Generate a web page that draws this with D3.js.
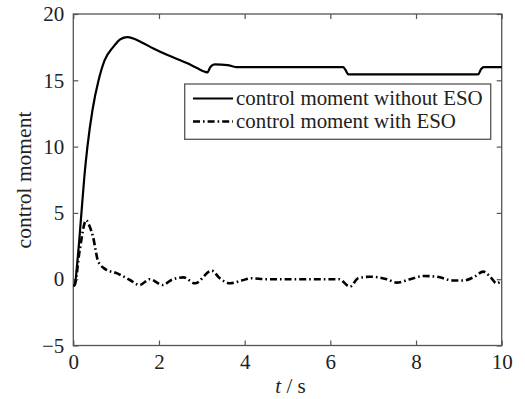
<!DOCTYPE html>
<html>
<head>
<meta charset="utf-8">
<script src="https://cdn.jsdelivr.net/npm/d3@7/dist/d3.min.js"></script>
<style>
  html, body { margin: 0; padding: 0; background: #fff; }
  svg { display: block; }
  text { font-family: "Liberation Serif", "Times New Roman", serif; fill: #222; }
</style>
</head>
<body>
<svg id="chart" width="525" height="399"></svg>
<script>
// Control moment without ESO
const timeWithout = [0, 0.03, 0.1, 0.19, 0.26, 0.33, 0.45, 0.59, 0.73, 0.93, 1.1, 1.26, 1.4, 1.6, 1.87, 2.2, 2.65, 2.9, 3.07, 3.13, 3.2, 3.3, 3.6, 3.8, 6.3, 6.35, 6.42, 9.45, 9.52, 9.58, 10];
const momentWithout = [-0.5, -0.45, 1.5, 5, 7.8, 10, 12.8, 15, 16.5, 17.5, 18.1, 18.25, 18.15, 17.85, 17.4, 16.9, 16.3, 15.9, 15.65, 15.6, 16.0, 16.2, 16.15, 16.0, 16.0, 15.8, 15.45, 15.45, 15.85, 16.0, 16.0];

// Control moment with ESO
const timeWith = [0, 0.03, 0.15, 0.3, 0.38, 0.46, 0.58, 0.73, 1.04, 1.32, 1.55, 1.78, 2.09, 2.29, 2.57, 2.84, 3.23, 3.42, 3.66, 3.93, 4.16, 4.5, 6.2, 6.46, 6.65, 6.93, 7.32, 7.55, 7.86, 8.17, 8.48, 8.87, 9.1, 9.34, 9.57, 9.73, 9.88, 10];
const momentWith = [-0.5, -0.45, 2.2, 4.45, 4.0, 3.2, 1.35, 0.8, 0.42, -0.06, -0.44, 0.0, -0.44, -0.06, 0.14, -0.31, 0.64, 0.07, -0.31, -0.1, 0.07, 0.0, 0.0, -0.56, 0.07, 0.19, 0.0, -0.26, 0.0, 0.24, 0.19, -0.1, -0.1, 0.14, 0.57, 0.19, -0.31, -0.1];

const xTicks = [0, 2, 4, 6, 8, 10];
const yTicks = [-5, 0, 5, 10, 15, 20];
const legendLabels = ["control moment without ESO", "control moment with ESO"];

const svg = d3.select("#chart");
const plot = { left: 73.3, right: 501.7, top: 14, bottom: 345.5 };

const x = d3.scaleLinear().domain([0, 10]).range([plot.left, plot.right]);
const y = d3.scaleLinear().domain([-5, 20]).range([plot.bottom, plot.top]);

const axisColor = "#555";
const tickLen = 5;

// frame
svg.append("rect")
  .attr("x", plot.left).attr("y", plot.top)
  .attr("width", plot.right - plot.left).attr("height", plot.bottom - plot.top)
  .attr("fill", "none").attr("stroke", axisColor).attr("stroke-width", 1.3);

// inward ticks on all four sides
const styleAxis = g => {
  g.select(".domain").remove();
  g.selectAll(".tick line").attr("stroke", axisColor).attr("stroke-width", 1.2);
  g.selectAll(".tick text").style("font-size", "21px").attr("fill", "#222");
};

svg.append("g").attr("transform", `translate(0,${plot.bottom})`)
  .call(d3.axisBottom(x).tickValues(xTicks).tickSizeInner(-tickLen).tickSizeOuter(0).tickPadding(9).tickFormat(d3.format("d")))
  .call(styleAxis);
svg.append("g").attr("transform", `translate(0,${plot.top})`)
  .call(d3.axisTop(x).tickValues(xTicks).tickSizeInner(-tickLen).tickSizeOuter(0).tickFormat(""))
  .call(styleAxis);
svg.append("g").attr("transform", `translate(${plot.left},0)`)
  .call(d3.axisLeft(y).tickValues(yTicks).tickSizeInner(-tickLen).tickSizeOuter(0).tickPadding(9).tickFormat(d => d < 0 ? "\u2212" + Math.abs(d) : d))
  .call(styleAxis);
svg.append("g").attr("transform", `translate(${plot.right},0)`)
  .call(d3.axisRight(y).tickValues(yTicks).tickSizeInner(-tickLen).tickSizeOuter(0).tickFormat(""))
  .call(styleAxis);

// curves
const line = d3.line().x(d => x(d[0])).y(d => y(d[1])).curve(d3.curveMonotoneX);
const seriesWithout = timeWithout.map((t, i) => [t, momentWithout[i]]);
const seriesWith = timeWith.map((t, i) => [t, momentWith[i]]);

const dashDot = "7,3,1.6,3";

svg.append("path").datum(seriesWithout)
  .attr("d", line).attr("fill", "none").attr("stroke", "#000").attr("stroke-width", 2.2);
svg.append("path").datum(seriesWith)
  .attr("d", line).attr("fill", "none").attr("stroke", "#000").attr("stroke-width", 2.6)
  .attr("stroke-dasharray", dashDot);

// legend
const legend = svg.append("g");
legend.append("rect")
  .attr("x", 184.7).attr("y", 84).attr("width", 306).attr("height", 55.3)
  .attr("fill", "#fff").attr("stroke", axisColor).attr("stroke-width", 1.3);
const legendRows = [
  { label: legendLabels[0], dash: null, width: 2.2 },
  { label: legendLabels[1], dash: dashDot, width: 2.6 }
];
legendRows.forEach((r, i) => {
  const cy = 98.5 + i * 23;
  legend.append("line")
    .attr("x1", 193).attr("x2", 233).attr("y1", cy).attr("y2", cy)
    .attr("stroke", "#000").attr("stroke-width", r.width)
    .attr("stroke-dasharray", r.dash);
  legend.append("text")
    .attr("x", 236).attr("y", cy + 6.5)
    .style("font-size", "20.9px")
    .text(r.label);
});

// axis titles
const xTitle = svg.append("text")
  .attr("x", (plot.left + plot.right) / 2 + 3).attr("y", 393)
  .attr("text-anchor", "middle").style("font-size", "21px");
xTitle.append("tspan").style("font-style", "italic").text("t");
xTitle.append("tspan").text(" / s");

svg.append("text")
  .attr("transform", `translate(31,180) rotate(-90)`)
  .attr("text-anchor", "middle").style("font-size", "21.5px")
  .text("control moment");
</script>
</body>
</html>
